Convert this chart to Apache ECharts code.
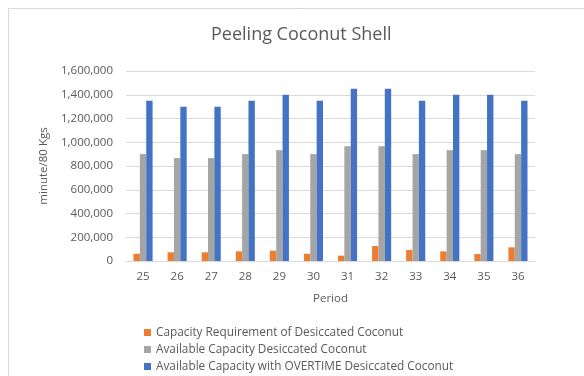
<!DOCTYPE html>
<html>
<head>
<meta charset="utf-8">
<script src="https://cdn.jsdelivr.net/npm/echarts@6/dist/echarts.min.js"></script>
<style>
  html, body { margin: 0; padding: 0; background: #fff; }
  #chart { width: 584px; height: 376px; }
</style>
</head>
<body>
<div id="chart"></div>
<script>
// Periods on the x axis
const periods = ['25', '26', '27', '28', '29', '30', '31', '32', '33', '34', '35', '36'];

// minute / 80 Kgs per period
const requirement = [61000, 73000, 73000, 81000, 87000, 61000, 45000, 126000, 93000, 81000, 59000, 115000];
const availableCapacity = [900000, 866667, 866667, 900000, 933333, 900000, 966667, 966667, 900000, 933333, 933333, 900000];
const overtimeCapacity = [1350000, 1300000, 1300000, 1350000, 1400000, 1350000, 1450000, 1450000, 1350000, 1400000, 1400000, 1350000];

const seriesNames = [
  'Capacity Requirement of Desiccated Coconut',
  'Available Capacity Desiccated Coconut',
  'Available Capacity with OVERTIME Desiccated Coconut'
];
const seriesColors = ['#ED7D31', '#A5A5A5', '#4472C4'];

const textColor = '#595959';
const fontFamily = '"Open Sans", "Noto Sans", sans-serif';

const chart = echarts.init(document.getElementById('chart'), null, { renderer: 'canvas' });

chart.setOption({
  backgroundColor: '#ffffff',
  animation: false,
  textStyle: { fontFamily: fontFamily, color: textColor },
  graphic: [{
    type: 'rect',
    shape: { x: 8.5, y: 8.5, width: 600, height: 400 },
    style: { fill: 'none', stroke: '#d9d9d9', lineWidth: 1 },
    silent: true
  }],
  title: {
    text: 'Peeling Coconut Shell',
    left: 206,
    top: 21,
    textStyle: { fontFamily: fontFamily, fontSize: 18, fontWeight: 'normal', color: textColor }
  },
  legend: {
    orient: 'vertical',
    left: 144,
    top: 326,
    padding: 0,
    itemWidth: 7,
    itemHeight: 7,
    itemGap: 4,
    icon: 'rect',
    textStyle: { fontFamily: fontFamily, fontSize: 11.8, lineHeight: 13, color: textColor },
    data: seriesNames
  },
  grid: { left: 126, right: 49, top: 71, bottom: 115, containLabel: false },
  xAxis: {
    type: 'category',
    data: periods,
    name: 'Period',
    nameLocation: 'middle',
    nameGap: 32,
    nameTextStyle: { fontSize: 11.5, color: textColor },
    axisLine: { lineStyle: { color: '#d9d9d9' } },
    axisTick: { show: false },
    axisLabel: { fontSize: 11.5, color: textColor, margin: 10 }
  },
  yAxis: {
    type: 'value',
    min: 0,
    max: 1600000,
    interval: 200000,
    name: 'minute/80 Kgs',
    nameLocation: 'middle',
    nameGap: 70,
    nameRotate: 90,
    nameTextStyle: { fontSize: 11.5, color: textColor },
    axisLine: { show: false },
    axisTick: { show: false },
    axisLabel: {
      fontSize: 11.5,
      color: textColor,
      margin: 13,
      formatter: v => v.toLocaleString('en-US')
    },
    splitLine: { lineStyle: { color: '#d9d9d9', width: 1 } }
  },
  series: [
    { name: seriesNames[0], type: 'bar', data: requirement, itemStyle: { color: seriesColors[0] }, barGap: '0%', barCategoryGap: '44%' },
    { name: seriesNames[1], type: 'bar', data: availableCapacity, itemStyle: { color: seriesColors[1] }, barGap: '0%', barCategoryGap: '44%' },
    { name: seriesNames[2], type: 'bar', data: overtimeCapacity, itemStyle: { color: seriesColors[2] }, barGap: '0%', barCategoryGap: '44%' }
  ]
});
</script>
</body>
</html>
